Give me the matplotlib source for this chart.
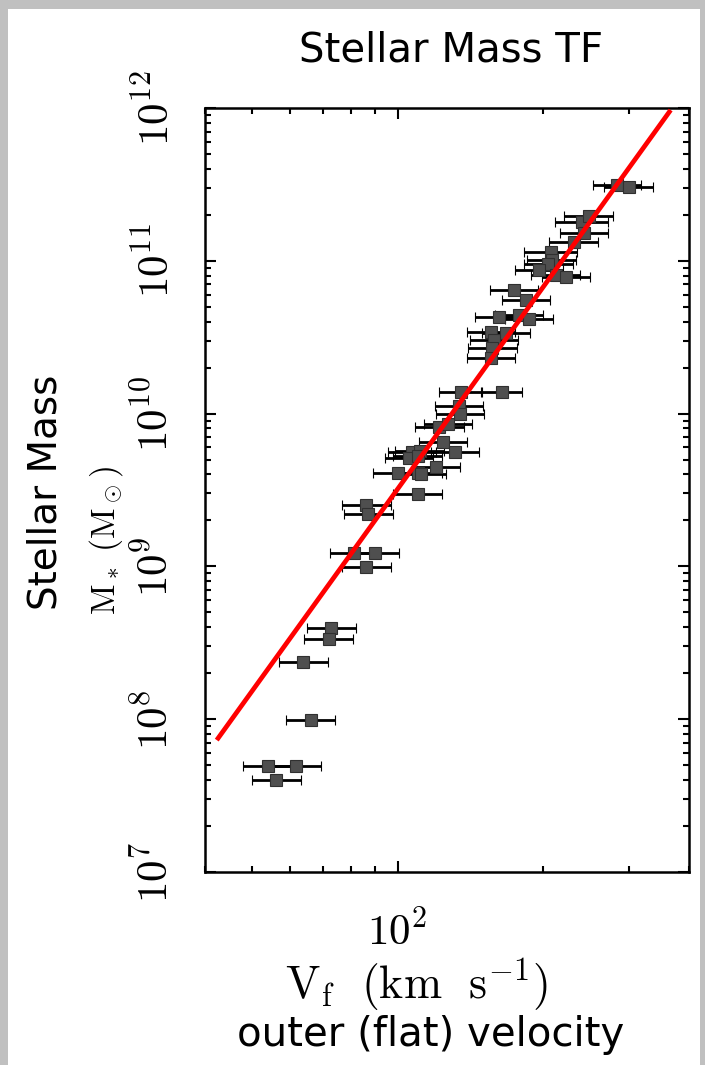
import numpy as np
import matplotlib
matplotlib.use("Agg")
import matplotlib.pyplot as plt
from matplotlib.ticker import LogLocator, FuncFormatter, NullFormatter
from matplotlib.patches import Rectangle

plt.rcParams['mathtext.fontset'] = 'cm'
plt.rcParams['font.family'] = ['DejaVu Sans']

# outer (flat) rotation velocity, km/s
vflat = [284, 300, 240, 248, 243, 231, 207, 208, 205, 196, 212, 223,
         174, 184, 178, 187, 162, 156, 167.5, 158, 157, 156,
         135, 164, 134, 134.7, 122, 127, 124, 107, 111, 131.5, 105.7, 110, 120,
         100, 110, 112, 110, 86.2, 87,
         81.4, 89.9, 86.2, 73, 72, 63.9, 66.1, 53.9, 61.8, 56.2]
# stellar mass, Msun
mstar = [3.13e11, 3.04e11, 1.79e11, 1.95e11, 1.52e11, 1.33e11, 1.14e11, 1.01e11, 9.5e10, 8.7e10, 8.07e10, 7.83e10,
         6.44e10, 5.54e10, 4.42e10, 4.16e10, 4.29e10, 3.42e10, 3.36e10, 3.03e10, 2.69e10, 2.31e10,
         1.38e10, 1.38e10, 1.12e10, 9.94e9, 8.17e9, 8.55e9, 6.52e9, 5.61e9, 5.69e9, 5.61e9, 5.12e9, 5.28e9, 4.47e9,
         4.08e9, 4.08e9, 4.03e9, 2.98e9, 2.52e9, 2.2e9,
         1.22e9, 1.22e9, 9.9e8, 3.95e8, 3.35e8, 2.37e8, 9.9e7, 4.94e7, 4.94e7, 4.0e7]
# velocity uncertainty in dex
verr_dex = [0.05, 0.05, 0.055, 0.05, 0.05, 0.05, 0.055, 0.05, 0.05, 0.05, 0.05, 0.05,
            0.05, 0.05, 0.05, 0.05, 0.05, 0.05, 0.05, 0.05, 0.05, 0.05,
            0.044, 0.043, 0.05, 0.05, 0.05, 0.05, 0.05, 0.05, 0.05, 0.05, 0.05, 0.05, 0.05,
            0.05, 0.05, 0.05, 0.05, 0.05, 0.05,
            0.05, 0.05, 0.05, 0.05, 0.05, 0.05, 0.05, 0.05, 0.05, 0.05]

# fitted relation (end points)
line_v = [42.3, 366.6]
line_m = [7.3e7, 9.7e11]

v = np.array(vflat)
m = np.array(mstar)
e = np.array(verr_dex)
xerr = [v - v / 10**e, v * 10**e - v]

fig = plt.figure(figsize=(7.05, 10.65), dpi=100)
fig.patch.set_facecolor('#c0c0c0')
fig.patches.append(Rectangle((8/705, 0), (700-8)/705, 1-9/1065, transform=fig.transFigure,
                             facecolor='white', edgecolor='none', zorder=-10))

ax = fig.add_axes([205/705, 1-872/1065, (689-205)/705, (872-108)/1065])
ax.set_xscale('log')
ax.set_yscale('log')
ax.set_xlim(40, 400)
ax.set_ylim(1e7, 1e12)

ax.errorbar(v, m, xerr=xerr, fmt='s', ms=8.5, mfc='#4f4f4f', mec='#303030', mew=0.8,
            ecolor='black', elinewidth=2, capsize=3.5, capthick=2, zorder=2)
ax.plot(line_v, line_m, color='red', lw=3.4, solid_capstyle='butt', zorder=3)

fmt = FuncFormatter(lambda val, pos: r'$10^{%d}$' % round(np.log10(val)))
ax.xaxis.set_major_locator(LogLocator(base=10))
ax.xaxis.set_major_formatter(fmt)
ax.xaxis.set_minor_locator(LogLocator(base=10, subs=np.arange(2, 10)))
ax.xaxis.set_minor_formatter(NullFormatter())
ax.yaxis.set_major_locator(LogLocator(base=10, numticks=10))
ax.yaxis.set_major_formatter(fmt)
ax.yaxis.set_minor_locator(LogLocator(base=10, subs=np.arange(2, 10), numticks=20))
ax.yaxis.set_minor_formatter(NullFormatter())

ax.tick_params(which='both', direction='in', top=True, right=True, width=1.5, colors='black')
ax.tick_params(which='major', length=8)
ax.tick_params(which='minor', length=4.5)
ax.tick_params(axis='x', which='major', pad=28, labelsize=31)
ax.tick_params(axis='y', which='major', pad=20, labelsize=31)
for lab in ax.get_yticklabels():
    lab.set_rotation(90)
    lab.set_va('center')
for sp in ax.spines.values():
    sp.set_linewidth(1.8)

fig.text(451/705, 1-50/1065, 'Stellar Mass TF', ha='center', va='center', fontsize=29)
fig.text(416/705, 1-985/1065, r'$\mathrm{V_f\ \ (km\ \ s^{-1})}$', ha='center', va='center', fontsize=33)
fig.text(431/705, 1-1035/1065, 'outer (flat) velocity', ha='center', va='center', fontsize=29)
fig.text(46/705, 1-492/1065, 'Stellar Mass', rotation=90, ha='center', va='center', fontsize=28)
fig.text(106/705, 1-540/1065, r'$\mathrm{M_*\ (M_\odot)}$', rotation=90, ha='center', va='center', fontsize=24)

fig.savefig('out.png', dpi=100, facecolor=fig.get_facecolor())
